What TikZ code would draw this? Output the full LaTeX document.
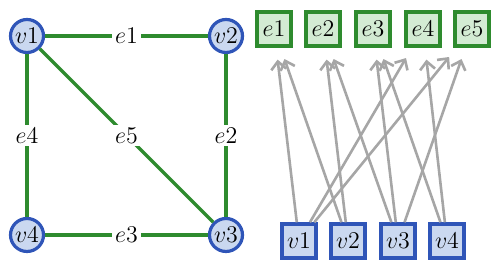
\documentclass[tikz,border=0pt]{standalone}
\usepackage{tikz}
\usetikzlibrary{arrows.meta, positioning, calc}
\usepackage{amsmath}
\usepackage[svgnames,table]{xcolor}

\definecolor{vblue}{HTML}{2F55B8}
\definecolor{vfill}{HTML}{CAD8F0}
\definecolor{egreen}{HTML}{2E8B2E}
\definecolor{efill}{HTML}{D3EBD3}

\begin{document}
\begin{tikzpicture}[x=0.5pt, y=0.5pt,
    vert/.style={circle, draw=vblue, fill=vfill, line width=1.6pt, minimum size=16.5pt, inner sep=0pt, font=\fontsize{13}{15}\selectfont},
    edge/.style={draw=egreen, line width=1.6pt},
    elabel/.style={fill=white, inner sep=1.5pt, font=\fontsize{13}{15}\selectfont},
    vbox/.style={rectangle, draw=vblue, fill=vfill, line width=1.7pt, minimum size=17pt, inner sep=0pt, font=\fontsize{13}{15}\selectfont},
    ebox/.style={rectangle, draw=egreen, fill=efill, line width=1.7pt, minimum size=17pt, inner sep=0pt, font=\fontsize{13}{15}\selectfont},
    inc/.style={-{Straight Barb[length=4pt, width=7.5pt]}, draw=gray!70, line width=1.3pt, shorten >=6pt}]
    \useasboundingbox (0,0) rectangle (500,271);

    % graph
    \node[vert] (v1) at (27,235) {$v1$};
    \node[vert] (v2) at (226,235) {$v2$};
    \node[vert] (v3) at (226,36) {$v3$};
    \node[vert] (v4) at (27,36) {$v4$};

    \draw[edge] (v1) -- node[elabel] {$e1$} (v2);
    \draw[edge] (v2) -- node[elabel] {$e2$} (v3);
    \draw[edge] (v3) -- node[elabel] {$e3$} (v4);
    \draw[edge] (v1) -- node[elabel] {$e4$} (v4);
    \draw[edge] (v1) -- node[elabel] {$e5$} (v3);

    % incidence
    \node[ebox] (e1) at (274,242) {$e1$};
    \node[ebox] (e2) at (323,242) {$e2$};
    \node[ebox] (e3) at (373,242) {$e3$};
    \node[ebox] (e4) at (423,242) {$e4$};
    \node[ebox] (e5) at (472,242) {$e5$};

    \node[vbox] (u1) at (299,30) {$v1$};
    \node[vbox] (u2) at (348,30) {$v2$};
    \node[vbox] (u3) at (398,30) {$v3$};
    \node[vbox] (u4) at (447,30) {$v4$};

    \foreach \a/\b in {u1/e1, u1/e4, u1/e5, u2/e1, u2/e2, u3/e2, u3/e3, u3/e5, u4/e3, u4/e4}
        \draw[inc] (\a) -- (\b);
\end{tikzpicture}
\end{document}
